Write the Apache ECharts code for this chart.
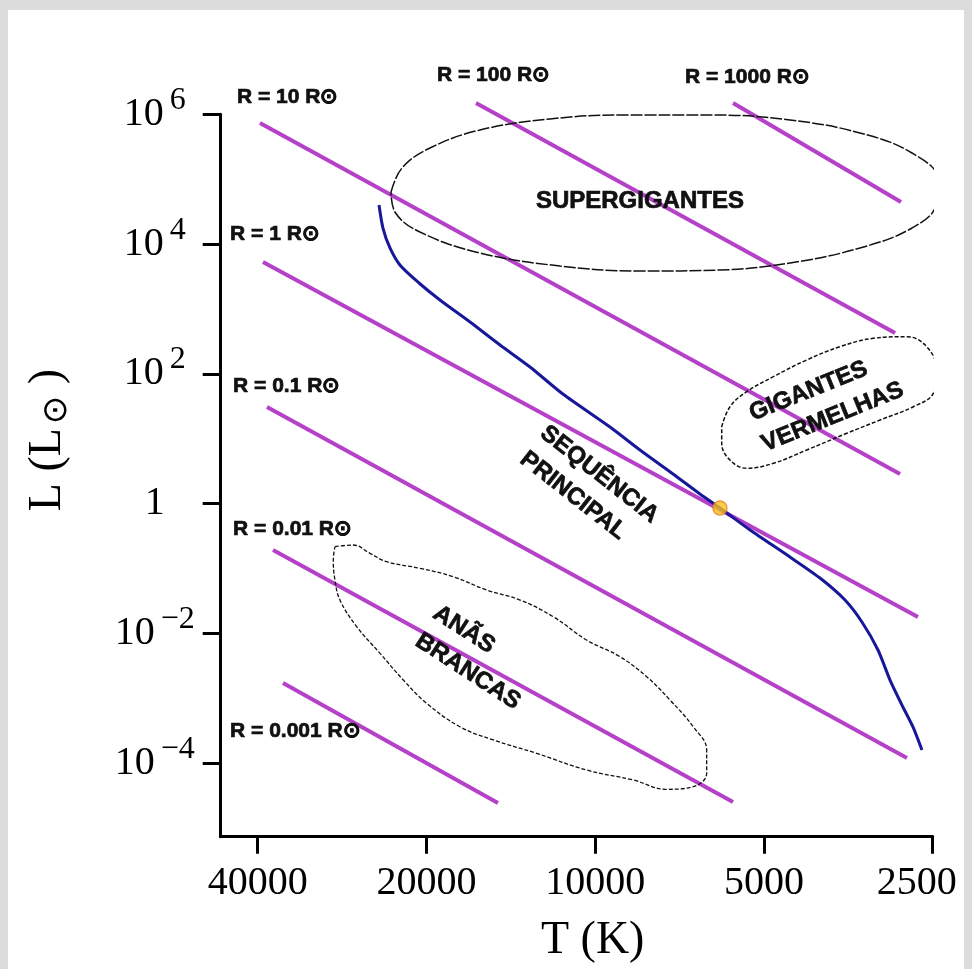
<!DOCTYPE html>
<html><head><meta charset="utf-8">
<script src="https://cdn.jsdelivr.net/npm/echarts@6/dist/echarts.min.js"></script>
<style>
html,body{margin:0;padding:0;background:#dcdcdc;width:972px;height:969px;overflow:hidden}
#panel{position:absolute;left:8px;top:10px;width:956px;height:959px;background:#fff}
#chart{position:absolute;left:0;top:0;width:972px;height:969px}
</style></head><body><div id="panel"></div><div id="chart"></div>
<script>
// ---- data ----
const tempTicks = [40000, 20000, 10000, 5000, 2500];
const lumTicks = [1e-4, 1e-2, 1, 1e2, 1e4, 1e6];

const radiusLabels = ['R = 1000 R⊙','R = 100 R⊙','R = 10 R⊙','R = 1 R⊙','R = 0.1 R⊙','R = 0.01 R⊙','R = 0.001 R⊙'];
const radiusLineT = [[5677,2848],[16320,2918],[39630,2859],[39140,2656],[38500,2779],[37560,5677],[36050,14910]];
const radiusLineL = [[1.49e6,4.45e4],[1.49e6,427],[7.35e5,2.87],[5300,0.01795],[30.9,1.21e-4],[0.1935,2.53e-5],[1.73e-3,2.44e-5]];
const radiusLabelT = [6915,19150,43550,44810,44260,44260,44810];
const radiusLabelL = [3.755e6,4.033e6,1.848e6,14310,65.1,0.4076,3.146e-4];

const mainSeqT = [24300,23910,23230,22300,20620,18920,16720,14780,13070,11420,9410,8320,7264,6503,5990,5294,4493,3972,3584,3343,3130,2979,2825,2711,2613];
const mainSeqL = [40040,17700,8710,4764,2516,1376,630,278.8,127.8,49.0,15.2,6.72,2.87,1.411,0.86,0.3934,0.1509,0.0716,0.0328,0.01504,5.57e-3,1.92e-3,7.37e-4,3.63e-4,1.60e-4];

const sunT = [5990];
const sunL = [0.86];

const superGiantT = [23130,22110,19710,16050,12040,8920,6189,4493,3371,2722,2446,2466,2722,3371,4493,5989,8321,11555,16050,20540,22760,23130];
const superGiantL = [63500,148800,302500,573100,846400,975500,975500,817000,515000,253300,97200,40040,17700,8710,5114,3990,3850,4598,7295,15360,31230,63500];

const redGiantT = [5947,5748,5368,4811,4195,3659,3191,2782,2562,2459,2494,2707,3104,3559,4195,4811,5368,5748,5947,5947];
const redGiantL = [15.36,31.23,53.17,90.55,163.8,262.5,353.7,374.4,262.5,114.9,50.24,31.23,19.49,12.15,6.72,4.19,3.51,4.71,8.53,15.36];

const whiteDwarfT = [29120,27010,25220,23550,20540,17910,15620,13620,11880,10360,9033,8094,7355,6684,6326,6326,6684,7456,8551,10360,12720,15200,17430,19980,21990,24200,26630,28530,29120,29320,29120];
const whiteDwarfL = [0.2175,0.231,0.172,0.1277,0.1011,0.075,0.0468,0.0328,0.01815,7.94e-3,4.39e-3,2.16e-3,9.45e-4,3.66e-4,1.6e-4,7.02e-5,4.36e-5,3.98e-5,5.53e-5,7.88e-5,1.426e-4,2.29e-4,3.66e-4,8.4e-4,1.92e-3,4.95e-3,0.01273,0.0328,0.0667,0.1357,0.2175];

const regionNames = ['SUPERGIGANTES','GIGANTES\nVERMELHAS','SEQUÊNCIA\nPRINCIPAL','ANÃS\nBRANCAS'];
const regionT = [8321,5152,12910,19995];
const regionL = [46140,13.66,8.47,0.01352];

// ---- styles ----
const regionRotate = [0, 22, -38, -33];
const regionAlign = ['center','left','left','left'];
const PURPLE = '#b541c9';
const BLUE = '#17179a';
const TEXT = '#111';

const zip = (a, b) => a.map((v, i) => [v, b[i]]);

const series = [];
radiusLineT.forEach((ts, i) => {
  series.push({
    type: 'line', data: zip(ts, radiusLineL[i]), showSymbol: false, clip: false, silent: true,
    lineStyle: { color: PURPLE, width: 4 }, z: 2
  });
});
const outline = (T, L, dash, w) => ({
  type: 'line', data: zip(T, L), showSymbol: false, clip: false, smooth: 0.4, silent: true,
  lineStyle: { color: '#111', width: w, type: dash }, z: 3
});
series.push(outline(superGiantT, superGiantL, [12, 2], 1.5));
series.push(outline(redGiantT, redGiantL, [4, 2], 1.5));
series.push(outline(whiteDwarfT, whiteDwarfL, [4, 2], 1.3));
series.push({
  type: 'line', data: zip(mainSeqT, mainSeqL), showSymbol: false, clip: false, smooth: 0.25, silent: true,
  lineStyle: { color: BLUE, width: 3 }, z: 4
});
series.push({
  type: 'scatter', data: zip(sunT, sunL), symbolSize: 14, clip: false, silent: true,
  itemStyle: { color: '#f4c21c', borderColor: '#e8822a', borderWidth: 1.5 }, z: 6
});
const labelBase = {
  show: true, position: 'inside', verticalAlign: 'middle', formatter: '{b}',
  fontFamily: 'Liberation Sans', fontWeight: 'bold', color: TEXT,
  textBorderColor: TEXT, textBorderWidth: 0.7, textShadowBlur: 0, opacity: 1
};
series.push({
  type: 'scatter', symbolSize: 0, clip: false, silent: true, z: 7,
  data: radiusLabels.map((n, i) => ({ name: n, value: [radiusLabelT[i], radiusLabelL[i]] })),
  label: Object.assign({}, labelBase, { align: 'left', fontSize: 21 })
});
series.push({
  type: 'scatter', symbolSize: 0, clip: false, silent: true, z: 7,
  data: regionNames.map((n, i) => ({ name: n, value: [regionT[i], regionL[i]],
    label: { rotate: regionRotate[i], align: regionAlign[i] } })),
  label: Object.assign({}, labelBase, { fontSize: 24, lineHeight: 33 })
});

const chart = echarts.init(document.getElementById('chart'), null, { renderer: 'canvas' });
chart.setOption({
  animation: false,
  backgroundColor: 'transparent',
  grid: { left: 220.7, right: 39.3, top: 114.3, bottom: 132.3, containLabel: false, outerBoundsMode: 'none' },
  xAxis: {
    type: 'log', logBase: 10, inverse: true, min: 2500, max: 46560,
    axisLine: { show: true, onZero: false, lineStyle: { color: '#000', width: 3 } },
    axisTick: { show: true, inside: false, length: 17, customValues: tempTicks, lineStyle: { color: '#000', width: 3 } },
    axisLabel: {
      customValues: tempTicks, margin: 27, color: '#000', fontFamily: 'Liberation Serif', fontSize: 40,
      formatter: v => { const r = Math.round(v); return r === 2500 ? '{e|' + r + '}' : String(r); },
      rich: { e: { fontFamily: 'Liberation Serif', fontSize: 40, color: '#000', padding: [0, 32, 0, 0] } }
    },
    splitLine: { show: false }, minorTick: { show: false },
    name: 'T (K)', nameLocation: 'middle', nameGap: 81,
    nameTextStyle: { fontFamily: 'Liberation Serif', fontSize: 46, color: '#000', padding: [0, 0, 0, 32] }
  },
  yAxis: {
    type: 'log', logBase: 10, min: 7.4e-6, max: 1e6,
    axisLine: { show: true, onZero: false, lineStyle: { color: '#000', width: 3 } },
    axisTick: { show: true, inside: false, length: 18, customValues: lumTicks, lineStyle: { color: '#000', width: 3 } },
    axisLabel: {
      customValues: lumTicks, margin: 66, align: 'center',
      formatter: v => {
        const e = Math.round(Math.log10(v));
        if (e === 0) return '{b|1}';
        return '{b|10}{s|' + (e < 0 ? '−' : '') + Math.abs(e) + '}';
      },
      rich: {
        b: { fontFamily: 'Liberation Serif', fontSize: 40, color: '#000', lineHeight: 60, verticalAlign: 'middle' },
        s: { fontFamily: 'Liberation Serif', fontSize: 32, color: '#000', lineHeight: 30, verticalAlign: 'top', padding: [0, 0, 0, 6] }
      }
    },
    splitLine: { show: false }, minorTick: { show: false },
    name: '{a|L (L}{b|⊙}{a| )}', nameLocation: 'middle', nameGap: 147, nameRotate: 90,
    nameTextStyle: {
      padding: [0, 0, 0, 71],
      rich: {
        a: { fontFamily: 'Liberation Serif', fontSize: 46, color: '#000', lineHeight: 52 },
        b: { fontFamily: 'DejaVu Sans', fontSize: 34, color: '#000', lineHeight: 52, verticalAlign: 'bottom', padding: [0, 0, 0, 4] }
      }
    }
  },
  series: series
});
</script></body></html>
